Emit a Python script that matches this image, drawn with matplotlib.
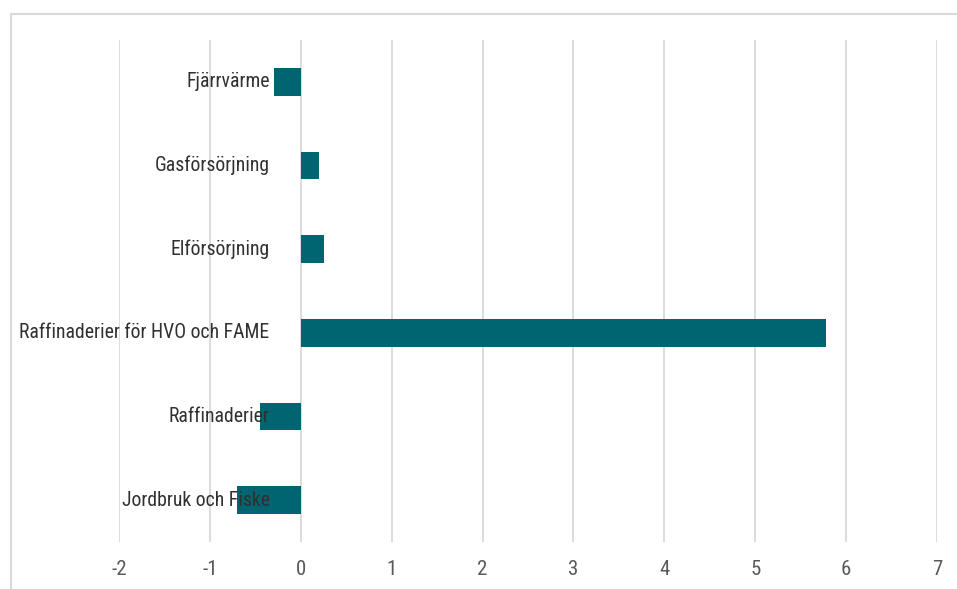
import matplotlib
matplotlib.use("Agg")
import matplotlib.pyplot as plt
from matplotlib.patches import Rectangle
from matplotlib import font_manager

categories = ["Fjärrvärme", "Gasförsörjning", "Elförsörjning",
              "Raffinaderier för HVO och FAME", "Raffinaderier", "Jordbruk och Fiske"]
values = [-0.30, 0.20, 0.26, 5.78, -0.45, -0.70]
xticks = [-2, -1, 0, 1, 2, 3, 4, 5, 6, 7]

names = {f.name for f in font_manager.fontManager.ttflist}
fam = "Liberation Sans"
narrow = False
for cand in ["Liberation Sans Narrow", "Roboto Condensed", "Open Sans Condensed", "DejaVu Sans Condensed"]:
    if cand in names:
        fam = cand
        narrow = True
        break
plt.rcParams["font.family"] = [fam, "DejaVu Sans"]
lab_size = 14.2 if narrow else 12.2
tick_size = 15 if narrow else 13

W, H = 957, 589
fig = plt.figure(figsize=(W / 100, H / 100), dpi=100)
ax = fig.add_axes([119 / W, (H - 542) / H, (937 - 119) / W, (542 - 40) / H])

ypos = list(range(len(categories)))
ax.barh(ypos, values, height=0.33, color="#006570", zorder=2)
ax.set_ylim(len(categories) - 0.5, -0.5)
ax.set_xlim(-2, 7)
ax.set_xticks(xticks)
ax.set_xticklabels([str(t) for t in xticks], color="#595959", fontsize=tick_size)
ax.tick_params(axis="x", length=0, pad=13)
ax.set_yticks([])
ax.grid(axis="x", color="#d9d9d9", linewidth=1.3, zorder=0)
ax.set_axisbelow(True)
for s in ax.spines.values():
    s.set_visible(False)

for y, lab in zip(ypos, categories):
    ax.annotate(lab, xy=(0, y), xytext=(-22.5, 0), textcoords="offset points",
                ha="right", va="center", fontsize=lab_size, color="#303030", zorder=5)

fig.patches.append(Rectangle((10.5 / W, -0.1), 1.2, (H - 14) / H + 0.1,
                             transform=fig.transFigure, fill=False,
                             edgecolor="#d9d9d9", linewidth=1.5))

fig.savefig("out.png", dpi=100)
